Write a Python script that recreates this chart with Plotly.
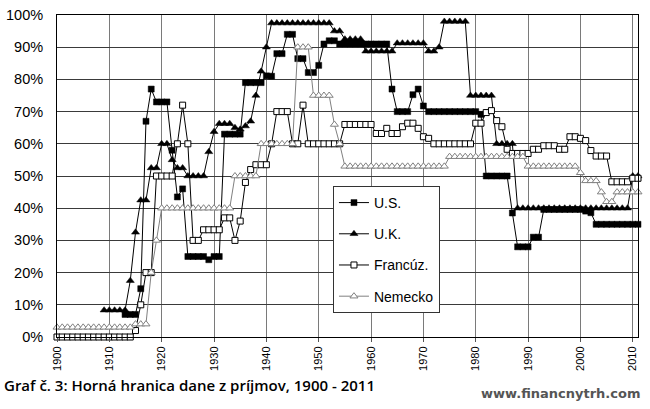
import plotly.graph_objects as go

# ---------------- data ----------------
us_years = list(range(1913, 2012))
us_vals = [7, 7, 7, 15, 67, 77, 73, 73, 73, 58, 43.5, 46,
           25, 25, 25, 25, 24, 25, 25,
           63, 63, 63, 63, 79, 79, 79, 79, 81.1, 81, 88, 88, 94, 94,
           86.45, 86.45, 82.13, 82.13, 84.36, 91, 92, 92,
           91, 91, 91, 91, 91, 91, 91, 91, 91, 91,
           77, 70, 70, 70, 75.25, 77, 71.75,
           70, 70, 70, 70, 70, 70, 70, 70, 70, 70,
           69.13, 50, 50, 50, 50, 50, 38.5, 28, 28, 28, 31, 31,
           39.6, 39.6, 39.6, 39.6, 39.6, 39.6, 39.6, 39.6, 39.1, 38.6,
           35, 35, 35, 35, 35, 35, 35, 35, 35]

uk_years = list(range(1909, 2012))
uk_vals = [8.33, 8.33, 8.33, 8.33, 8.33, 17.5, 32.5, 42.5, 42.5, 52.5, 52.5,
           60, 60, 55, 52.5, 52.5, 50, 50, 50, 50, 57.5, 63.75,
           66.25, 66.25, 66.25, 65, 64.5, 65.5, 67, 75, 82.5, 90,
           97.5, 97.5, 97.5, 97.5, 97.5, 97.5, 97.5, 97.5, 97.5, 97.5, 97.5, 97.5,
           95, 95, 92.5, 92.5, 92.5, 92.5,
           88.75, 88.75, 88.75, 88.75, 88.75, 88.75,
           91.25, 91.25, 91.25, 91.25, 91.25, 91.25,
           88.75, 88.75, 90, 98, 98, 98, 98, 98,
           75, 75, 75, 75, 75, 60, 60, 60, 60,
           40, 40, 40, 40, 40, 40, 40, 40, 40, 40, 40,
           40, 40, 40, 40, 40, 40, 40, 40, 40, 40, 40,
           50, 50]

fr_years = list(range(1900, 2012))
fr_vals = [0, 0, 0, 0, 0, 0, 0, 0, 0, 0, 0, 0, 0, 0, 0,
           2, 10, 20, 20, 50, 50, 50, 50, 60, 72, 60, 30, 30,
           33.3, 33.3, 33.3, 33.3, 37, 37, 30, 36, 48, 52, 53.5, 53.5, 53.5,
           60, 70, 70, 70, 60, 60, 72, 60, 60, 60, 60, 60, 60, 60,
           66, 66, 66, 66, 66, 66, 63.2, 63.2, 64.8, 63.2, 63.2, 65.3,
           66.4, 66.4, 64.8, 62.2, 61.7, 60, 60, 60, 60, 60, 60, 60, 60,
           66.4, 66.4, 69.7, 70.3, 67.2, 65.3, 58.3, 57, 57, 57, 57,
           58.3, 58.3, 59.4, 59.4, 59.4, 58.3, 58.3, 62.2, 62.2, 61.7, 61,
           57.9, 56.2, 56.2, 56.2, 48.2, 48.2, 48.2, 48.2, 49.3, 49.3]

de_years = list(range(1900, 2012))
de_vals = [3, 3, 3, 3, 3, 3, 3, 3, 3, 3, 3, 3, 3, 3, 3,
           4, 4, 4, 20, 30,
           40, 40, 40, 40, 40, 40, 40, 40, 40, 40, 40, 40, 40, 40,
           50, 50, 50, 50, 50, 60, 60, 60, 60, 60, 60, 60,
           90, 90, 90, 75, 75, 75, 75, 66, 60,
           53, 53, 53, 53, 53, 53, 53, 53, 53, 53,
           53, 53, 53, 53, 53, 53, 53, 53, 53, 53,
           56, 56, 56, 56, 56, 56, 56, 56, 56, 56, 56, 56, 56, 56, 56,
           53, 53, 53, 53, 53, 53, 53, 53, 53, 53,
           51, 48.5, 48.5, 48.5, 45, 42, 42, 45, 45, 45, 45, 45]

names = ["U.S.", "U.K.", "Francúz.", "Nemecko"]
y_ticks = [0, 10, 20, 30, 40, 50, 60, 70, 80, 90, 100]
x_ticks = list(range(1900, 2011, 10))
title_text = "Graf č. 3: Horná hranica dane z príjmov, 1900 - 2011"
source_text = "www.financnytrh.com"

# ---------------- figure ----------------
fig = go.Figure()

fig.add_trace(go.Scatter(
    x=us_years, y=us_vals, name=names[0], mode="lines+markers", legendgroup="a",
    line=dict(color="black", width=1),
    marker=dict(symbol="square", size=6, color="black", line=dict(color="black", width=0.5)),
    cliponaxis=False))
fig.add_trace(go.Scatter(
    x=uk_years, y=uk_vals, name=names[1], mode="lines+markers", legendgroup="b",
    line=dict(color="black", width=1),
    marker=dict(symbol="triangle-up", size=7, color="black", line=dict(color="black", width=0.5)),
    cliponaxis=False))
fig.add_trace(go.Scatter(
    x=fr_years, y=fr_vals, name=names[2], mode="lines+markers", legendgroup="c",
    line=dict(color="black", width=1),
    marker=dict(symbol="square", size=6, color="white", line=dict(color="black", width=1)),
    cliponaxis=False))
fig.add_trace(go.Scatter(
    x=de_years, y=de_vals, name=names[3], mode="lines+markers", legendgroup="d",
    line=dict(color="#808080", width=1),
    marker=dict(symbol="triangle-up", size=7, color="white", line=dict(color="#808080", width=1)),
    cliponaxis=False))

fig.update_xaxes(
    range=[1900, 2011], tickmode="array", tickvals=x_ticks,
    ticktext=[str(v) for v in x_ticks], tickangle=-90, automargin=False,
    ticklabeloverflow="allow",
    showgrid=True, gridcolor="#7a7a7a", gridwidth=1,
    showline=True, linecolor="black", linewidth=1, mirror=True,
    ticks="outside", ticklen=4, tickcolor="#555",
    tickfont=dict(family="Liberation Sans", size=11, color="black"),
    zeroline=False)
fig.update_yaxes(
    range=[0, 100], tickmode="array", tickvals=y_ticks,
    ticktext=[f"{v}%" for v in y_ticks], automargin=False,
    ticklabeloverflow="allow",
    showgrid=True, gridcolor="#3a3a3a", gridwidth=1,
    showline=True, linecolor="black", linewidth=1, mirror=True,
    ticks="", ticklabelstandoff=10,
    tickfont=dict(family="Liberation Sans", size=14.5, color="black"),
    zeroline=False)

fig.add_annotation(
    text=title_text, xref="paper", yref="paper", x=-0.0947, y=-0.149,
    xanchor="left", yanchor="middle", showarrow=False,
    font=dict(family="Open Sans", size=15, color="black", weight=600))
fig.add_annotation(
    text=source_text, xref="paper", yref="paper", x=1.0086, y=-0.174,
    xanchor="right", yanchor="middle", showarrow=False,
    font=dict(family="DejaVu Sans", size=13, color="#555555", weight="bold"))

fig.update_layout(
    template="none",
    width=650, height=409,
    margin=dict(l=57, r=12, t=15, b=72, autoexpand=False),
    plot_bgcolor="white", paper_bgcolor="white",
    showlegend=True,
    legend=dict(
        x=0.475, y=0.469, xanchor="left", yanchor="top",
        bgcolor="white", bordercolor="#333", borderwidth=1,
        font=dict(family="Liberation Sans", size=14, color="black"),
        tracegroupgap=10, itemwidth=30),
)

# let the 650x409 figure fill the window from its top-left corner
fig.write_html("out.html", config={"displayModeBar": False},
               post_script="document.body.style.margin='0';")
